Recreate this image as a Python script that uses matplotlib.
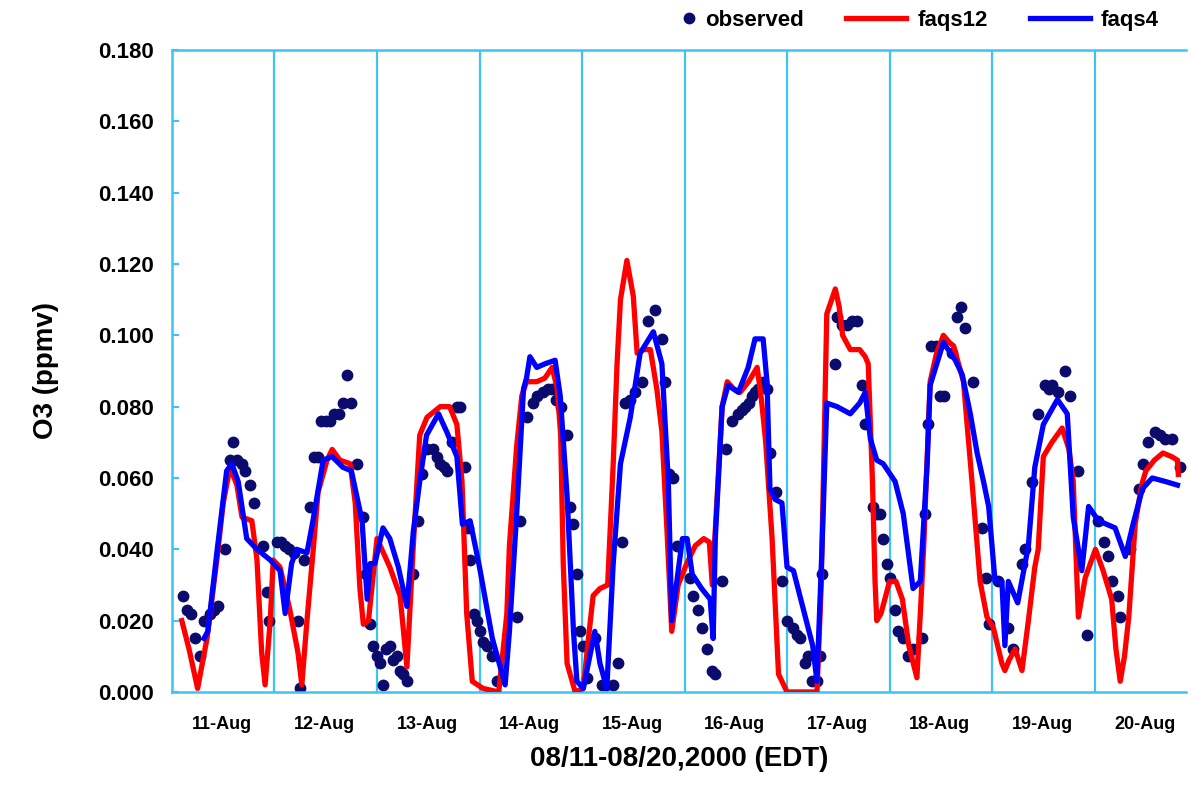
import matplotlib
matplotlib.use("Agg")
import matplotlib.pyplot as plt
from matplotlib.legend_handler import HandlerLine2D

plt.rcParams["font.family"] = ["Liberation Sans", "DejaVu Sans"]
plt.rcParams["font.weight"] = "bold"

# hours since 08/11 00:00 EDT
OBS_H = [2.5, 3.5, 4.5, 5.3, 6.5, 7.5, 8.8, 9.8, 10.8, 12.5, 13.6, 14.4, 15.3, 16.3,
         17.2, 18.2, 19.2, 21.3, 22.2, 22.7, 24.5, 25.5, 26.5, 27.5, 28.5, 29.5, 30.0,
         30.8, 32.3, 33.3, 34.2, 35.0, 36.0, 37.0, 38.0, 39.0, 40.0, 41.0, 42.0, 43.3,
         44.7, 45.5, 46.4, 47.1, 48.0, 48.7, 49.4, 50.2, 51.0, 51.8, 52.6, 53.4, 54.2,
         55.0, 56.4, 57.5, 58.6, 59.8, 61.0, 62.0, 62.8, 63.6, 64.4, 65.5, 66.7, 67.5,
         68.6, 69.3, 69.8, 70.6, 71.4, 72.0, 72.9, 73.8, 75.0, 76.0, 80.8, 81.5, 83.0,
         84.5, 85.5, 86.9, 88.0, 89.0, 90.0, 91.0, 92.5, 93.2, 94.0, 94.8, 95.6, 96.3,
         97.2, 99.0, 100.7, 101.5, 103.3, 104.4, 105.4, 106.0, 107.3, 108.4, 110.0,
         111.5, 113.1, 114.7, 115.5, 116.3, 117.2, 118.3, 121.3, 122.0, 123.2, 124.1,
         125.2, 126.5, 127.2, 128.8, 129.8, 131.1, 132.6, 133.4, 134.2, 135.0, 135.8,
         136.5, 137.3, 138.3, 139.3, 140.0, 141.4, 142.9, 144.0, 145.5, 146.3, 147.1,
         148.2, 149.0, 149.9, 151.0, 151.8, 152.2, 155.3, 155.7, 156.8, 158.0, 159.2,
         160.4, 161.6, 162.3, 164.2, 165.0, 165.8, 166.5, 167.4, 168.0, 169.3, 170.0,
         171.2, 172.4, 173.5, 175.5, 176.3, 177.0, 177.8, 178.8, 179.8, 180.8, 182.7,
         183.8, 184.8, 185.7, 187.6, 189.7, 190.6, 191.3, 193.4, 195.7, 197.0, 199.0,
         199.8, 201.4, 202.8, 204.5, 205.3, 206.0, 207.5, 209.0, 210.3, 212.2, 214.3,
         216.9, 218.2, 219.2, 220.1, 221.5, 222.0, 224.4, 226.3, 227.4, 228.6, 230.2,
         231.3, 232.6, 234.2, 236.0]
OBS_V = [0.027, 0.023, 0.022, 0.015, 0.010, 0.020, 0.022, 0.023, 0.024, 0.040, 0.065,
         0.070, 0.065, 0.064, 0.062, 0.058, 0.053, 0.041, 0.028, 0.020, 0.042, 0.042,
         0.041, 0.040, 0.039, 0.020, 0.001, 0.037, 0.052, 0.066, 0.066, 0.076, 0.076,
         0.076, 0.078, 0.078, 0.081, 0.089, 0.081, 0.064, 0.049, 0.033, 0.019, 0.013,
         0.010, 0.008, 0.002, 0.012, 0.013, 0.009, 0.010, 0.006, 0.005, 0.003, 0.033,
         0.048, 0.061, 0.068, 0.068, 0.066, 0.064, 0.063, 0.062, 0.070, 0.080, 0.080,
         0.063, 0.046, 0.037, 0.022, 0.020, 0.017, 0.014, 0.013, 0.010, 0.003, 0.021,
         0.048, 0.077, 0.081, 0.083, 0.084, 0.085, 0.085, 0.082, 0.080, 0.072, 0.052,
         0.047, 0.033, 0.017, 0.013, 0.004, 0.015, 0.002, 0.002, 0.002, 0.008, 0.042,
         0.081, 0.082, 0.084, 0.087, 0.104, 0.107, 0.099, 0.087, 0.061, 0.060, 0.041,
         0.032, 0.027, 0.023, 0.018, 0.012, 0.006, 0.005, 0.031, 0.068, 0.076, 0.078,
         0.079, 0.080, 0.081, 0.083, 0.084, 0.085, 0.087, 0.085, 0.067, 0.056, 0.031,
         0.020, 0.018, 0.016, 0.015, 0.008, 0.010, 0.003, 0.003, 0.010, 0.033, 0.092,
         0.105, 0.103, 0.103, 0.104, 0.104, 0.086, 0.075, 0.052, 0.050, 0.050, 0.043,
         0.036, 0.032, 0.023, 0.017, 0.015, 0.010, 0.012, 0.015, 0.050, 0.075, 0.097,
         0.097, 0.083, 0.083, 0.095, 0.105, 0.108, 0.102, 0.087, 0.046, 0.032, 0.019,
         0.031, 0.018, 0.012, 0.036, 0.040, 0.059, 0.078, 0.086, 0.085, 0.086, 0.084,
         0.090, 0.083, 0.062, 0.016, 0.048, 0.042, 0.038, 0.031, 0.027, 0.021, 0.040,
         0.057, 0.064, 0.070, 0.073, 0.072, 0.071, 0.071, 0.063]

F12_H = [2.3, 4.0, 6.0, 8.2, 10.5, 12.0, 13.6, 15.2, 16.4, 18.7, 19.9, 21.0, 21.8, 23.0,
         23.7, 25.3, 27.6, 29.5, 30.4, 31.6, 33.0, 34.2, 36.3, 37.5, 39.3, 41.7, 42.9,
         44.0, 44.8, 46.0, 48.0, 51.0, 53.4, 55.0, 56.5, 58.0, 59.7, 62.8, 65.0, 66.7,
         67.9, 69.0, 70.3, 72.8, 76.5, 78.4, 79.0, 80.7, 81.9, 83.0, 85.4, 87.3, 89.0,
         90.2, 91.0, 91.6, 92.5, 94.4, 96.3, 97.5, 98.6, 100.2, 102.0, 103.3, 104.2,
         105.0, 106.5, 108.0, 108.9, 110.5, 112.0, 113.5, 114.7, 115.9, 117.0, 118.5,
         120.5, 122.5, 124.5, 125.8, 126.5, 127.5, 128.8, 130.0, 131.5, 133.0, 135.0,
         137.0, 138.0, 139.0, 140.5, 142.0, 144.0, 151.0, 152.0, 152.5, 153.3, 155.3,
         156.2, 157.0, 158.8, 161.0, 162.3, 163.0, 164.0, 164.6, 165.0, 166.0, 168.0,
         169.5, 171.0, 172.5, 174.4, 175.2, 176.0, 177.5, 179.0, 180.6, 182.0, 183.0,
         185.3, 187.3, 189.2, 190.8, 192.3, 193.5, 194.3, 195.0, 196.0, 197.4, 199.0,
         200.5, 202.0, 202.8, 204.0, 206.0, 208.4, 210.0, 211.0, 212.2, 213.8, 216.2,
         218.0, 220.0, 221.0, 222.0, 223.0, 224.0, 225.5, 227.0, 228.0, 230.0, 232.0,
         234.0, 235.4, 235.6]
F12_V = [0.020, 0.012, 0.001, 0.015, 0.037, 0.053, 0.063, 0.058, 0.049, 0.048, 0.037,
         0.011, 0.002, 0.020, 0.037, 0.035, 0.023, 0.011, 0.002, 0.020, 0.039, 0.056,
         0.065, 0.068, 0.065, 0.064, 0.053, 0.029, 0.019, 0.020, 0.043, 0.035, 0.027,
         0.007, 0.041, 0.072, 0.077, 0.080, 0.080, 0.075, 0.059, 0.022, 0.003, 0.001,
         0.000, 0.022, 0.041, 0.069, 0.083, 0.087, 0.087, 0.088, 0.091, 0.085, 0.072,
         0.036, 0.008, 0.000, 0.001, 0.015, 0.027, 0.029, 0.030, 0.064, 0.092, 0.110,
         0.121, 0.111, 0.095, 0.096, 0.096, 0.085, 0.073, 0.045, 0.017, 0.030, 0.036,
         0.041, 0.043, 0.042, 0.030, 0.052, 0.080, 0.087, 0.085, 0.084, 0.087, 0.091,
         0.082, 0.070, 0.043, 0.005, 0.000, 0.000, 0.030, 0.059, 0.106, 0.113, 0.108,
         0.100, 0.096, 0.096, 0.094, 0.092, 0.059, 0.031, 0.020, 0.022, 0.031, 0.031,
         0.026, 0.013, 0.004, 0.022, 0.041, 0.087, 0.095, 0.100, 0.098, 0.097, 0.087,
         0.059, 0.031, 0.021, 0.018, 0.012, 0.008, 0.006, 0.009, 0.012, 0.006, 0.020,
         0.035, 0.040, 0.066, 0.070, 0.074, 0.068, 0.059, 0.021, 0.032, 0.040, 0.034,
         0.026, 0.012, 0.003, 0.010, 0.021, 0.047, 0.058, 0.062, 0.065, 0.067, 0.066,
         0.065, 0.061]

F4_H = [7.5, 8.4, 10.5, 12.8, 14.0, 15.5, 17.5, 19.9, 23.0, 25.3, 26.5, 28.0, 29.2,
        31.6, 33.0, 35.4, 37.5, 40.0, 42.0, 44.5, 45.7, 46.4, 47.5, 49.4, 51.0, 53.0,
        55.0, 56.5, 58.0, 59.6, 62.4, 64.3, 66.7, 68.0, 69.8, 72.0, 75.0, 78.0, 79.0,
        80.7, 82.3, 83.0, 83.8, 85.4, 87.3, 89.7, 90.9, 92.5, 94.0, 94.8, 96.3, 99.0,
        100.2, 101.8, 103.3, 105.0, 107.3, 109.6, 112.7, 114.7, 116.2, 117.0, 119.5,
        120.6, 121.8, 124.0, 126.0, 126.7, 127.2, 128.8, 130.2, 132.6, 134.9, 136.5,
        138.4, 139.3, 140.0, 141.2, 142.8, 144.0, 145.5, 147.0, 148.7, 150.0, 151.0,
        152.2, 153.3, 155.7, 158.8, 161.0, 162.3, 163.5, 165.0, 166.5, 169.3, 171.2,
        173.5, 175.2, 176.8, 177.5, 180.6, 183.4, 185.0, 186.9, 188.5, 190.0, 191.2,
        192.7, 194.3, 195.0, 195.8, 198.0, 200.5, 202.0, 204.0, 207.3, 209.6, 211.0,
        213.0, 214.6, 216.9, 220.8, 223.2, 225.0, 227.2, 229.5, 232.6, 235.4]
F4_V = [0.015, 0.017, 0.039, 0.062, 0.064, 0.059, 0.043, 0.040, 0.037, 0.034, 0.022,
        0.036, 0.040, 0.039, 0.048, 0.065, 0.066, 0.063, 0.062, 0.048, 0.026, 0.036,
        0.036, 0.046, 0.043, 0.035, 0.024, 0.045, 0.059, 0.072, 0.078, 0.073, 0.066,
        0.047, 0.048, 0.035, 0.015, 0.002, 0.017, 0.050, 0.085, 0.088, 0.094, 0.091,
        0.092, 0.093, 0.083, 0.055, 0.017, 0.003, 0.001, 0.017, 0.008, 0.001, 0.036,
        0.064, 0.077, 0.095, 0.101, 0.092, 0.059, 0.020, 0.043, 0.043, 0.033, 0.029,
        0.026, 0.015, 0.043, 0.080, 0.086, 0.084, 0.091, 0.099, 0.099, 0.087, 0.057,
        0.054, 0.053, 0.035, 0.034, 0.027, 0.019, 0.013, 0.003, 0.041, 0.081, 0.080,
        0.078, 0.081, 0.084, 0.071, 0.065, 0.064, 0.059, 0.050, 0.029, 0.031, 0.064,
        0.086, 0.098, 0.093, 0.089, 0.078, 0.067, 0.059, 0.052, 0.031, 0.031, 0.013,
        0.031, 0.025, 0.041, 0.063, 0.075, 0.082, 0.078, 0.049, 0.034, 0.052, 0.048,
        0.046, 0.038, 0.047, 0.057, 0.060, 0.059, 0.058]

DAY_LABELS = ["11-Aug", "12-Aug", "13-Aug", "14-Aug", "15-Aug",
              "16-Aug", "17-Aug", "18-Aug", "19-Aug", "20-Aug"]
Y_TICKS = [0.0, 0.02, 0.04, 0.06, 0.08, 0.10, 0.12, 0.14, 0.16, 0.18]

GRID = "#3fc3f2"


class RightDot(HandlerLine2D):
    # put the legend dot right next to its text, like the original
    def create_artists(self, legend, orig_handle, xdescent, ydescent,
                       width, height, fontsize, trans):
        arts = super().create_artists(legend, orig_handle, xdescent, ydescent,
                                      width, height, fontsize, trans)
        for a in arts:
            a.set_xdata([width - xdescent - 4] * len(a.get_xdata()))
        return arts


fig = plt.figure(figsize=(11.91, 7.91), dpi=100)
ax = fig.add_axes([0.1444, 0.1252, 0.8514, 0.8116])

obs, = ax.plot(OBS_H, OBS_V, ls="none", marker="o", ms=7.5, color="#0b0b6e",
               label="observed", zorder=2)
ax.plot(F12_H, F12_V, color="#ff0000", lw=3.8, label="faqs12", zorder=3)
ax.plot(F4_H, F4_V, color="#0000ff", lw=3.8, label="faqs4", zorder=4)

# day separators
for d in range(1, len(DAY_LABELS)):
    ax.axvline(24 * d, color=GRID, lw=1.6, zorder=1)

ax.set_xlim(0, 237.4)
ax.set_ylim(0, 0.18)
ax.set_yticks(Y_TICKS)
ax.set_yticklabels([f"{v:.3f}" for v in Y_TICKS])
ax.set_xticks([24 * i + 11.7 for i in range(len(DAY_LABELS))])
ax.set_xticklabels(DAY_LABELS)
ax.tick_params(axis="y", direction="in", length=5, width=1.5, color=GRID,
               labelsize=16, pad=13)
ax.tick_params(axis="x", length=0, labelsize=13, pad=17)
for lab in ax.get_xticklabels() + ax.get_yticklabels():
    lab.set_fontweight("bold")

for side in ["left", "top", "bottom"]:
    ax.spines[side].set_color(GRID)
    ax.spines[side].set_linewidth(1.8)
ax.spines["right"].set_visible(False)

ax.set_ylabel("O3 (ppmv)", fontsize=20, fontweight="bold", labelpad=28)
ax.set_xlabel("08/11-08/20,2000 (EDT)", fontsize=20, fontweight="bold", labelpad=10)

fig.legend(loc="center right", bbox_to_anchor=(0.99, 0.974), ncol=3,
           frameon=False, numpoints=1, handlelength=2.7,
           handletextpad=0.5, columnspacing=1.9, prop={"weight": "bold", "size": 16},
           handler_map={obs: RightDot()})

fig.savefig("out.png", dpi=100)
